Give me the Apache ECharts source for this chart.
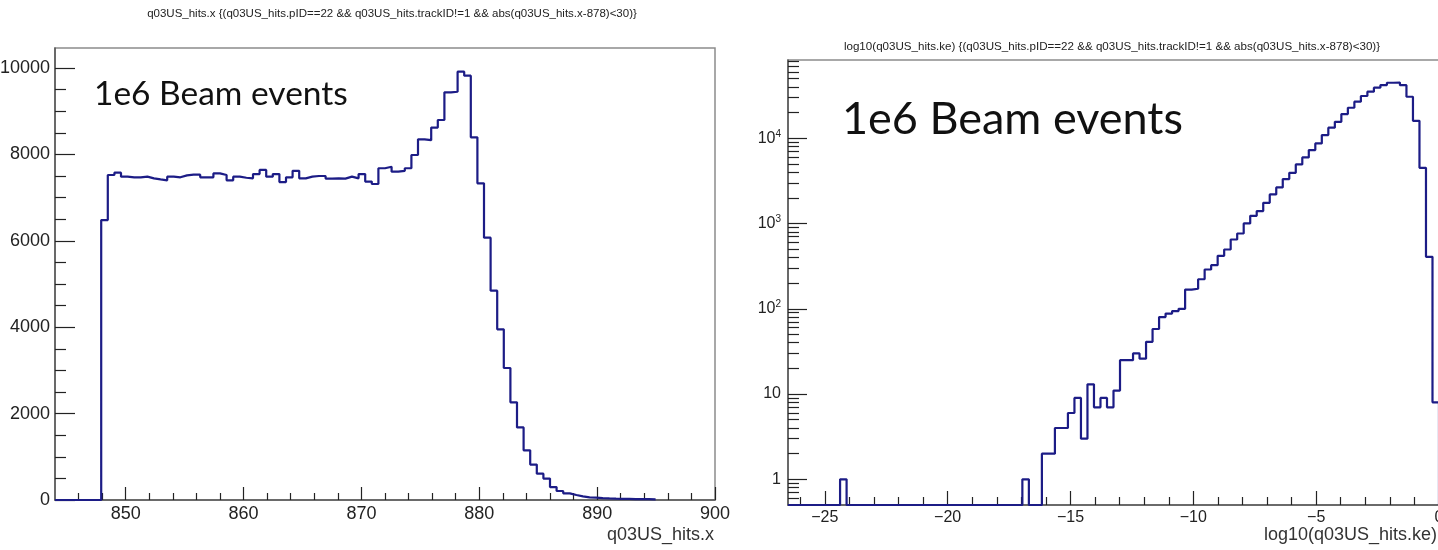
<!DOCTYPE html>
<html>
<head>
<meta charset="utf-8">
<script src="https://cdn.jsdelivr.net/npm/echarts@6/dist/echarts.min.js"></script>
<style>
html,body{margin:0;padding:0;background:#fff;}
#chart{width:1438px;height:550px;}
</style>
</head>
<body>
<div id="chart"></div>
<script>
// ---------- Left histogram: q03US_hits.x ----------
const leftTitle = 'q03US_hits.x {(q03US_hits.pID==22 && q03US_hits.trackID!=1 && abs(q03US_hits.x-878)<30)}';
const leftXTitle = 'q03US_hits.x';
const leftBinLo = 844;
const leftBinHi = 900;
const leftNBins = 100;
const leftYMax = 10463;
const leftCounts = [
  0, 0, 0, 0, 0, 0, 0, 6480, 7523, 7577,
  7485, 7470, 7470, 7485, 7446, 7420, 7400, 7485, 7470, 7515,
  7530, 7530, 7470, 7470, 7560, 7523, 7400, 7485, 7460, 7446,
  7545, 7640, 7485, 7545, 7360, 7470, 7620, 7446, 7485, 7500,
  7500, 7440, 7446, 7440, 7485, 7446, 7545, 7370, 7315, 7680,
  7715, 7600, 7620, 7680, 7986, 8348, 8330, 8620, 8796, 9437,
  9450, 9915, 9822, 8395, 7330, 6072, 4845, 3950, 3055, 2260,
  1680, 1150, 820, 610, 495, 300, 208, 154, 116, 85,
  60, 55, 45, 38, 32, 28, 25, 22, 20, 18,
  15
];
const leftXMajor = [850, 860, 870, 880, 890, 900];
const leftXMinor = [846, 848, 852, 854, 856, 858, 862, 864, 866, 868, 872, 874, 876, 878, 882, 884, 886, 888, 892, 894, 896, 898];
const leftYMajor = [0, 2000, 4000, 6000, 8000, 10000];
const leftYMinor = [500, 1000, 1500, 2500, 3000, 3500, 4500, 5000, 5500, 6500, 7000, 7500, 8500, 9000, 9500];

// ---------- Right histogram: log10(q03US_hits.ke) ----------
const rightTitle = 'log10(q03US_hits.ke) {(q03US_hits.pID==22 && q03US_hits.trackID!=1 && abs(q03US_hits.x-878)<30)}';
const rightXTitle = 'log10(q03US_hits.ke)';
const rightBinLo = -26.5;
const rightBinHi = 0;
const rightNBins = 100;
const rightYMin = 0.5;
const rightYMax = 82800;
const rightCounts = [
  0, 0, 0, 0, 0, 0, 0, 0, 1, 0,
  0, 0, 0, 0, 0, 0, 0, 0, 0, 0,
  0, 0, 0, 0, 0, 0, 0, 0, 0, 0,
  0, 0, 0, 0, 0, 0, 1, 0, 0, 2,
  2, 4, 4, 6, 9, 3, 13, 7, 9, 7,
  11, 25, 25, 30, 26, 41, 58, 80, 88, 94,
  100, 168, 172, 222, 289, 325, 418, 496, 650, 764,
  1002, 1233, 1399, 1750, 2193, 2650, 3320, 3937, 4935, 5960,
  7270, 8710, 10900, 13300, 15600, 19200, 22800, 26900, 31300, 35200,
  39200, 42100, 44800, 45100, 42000, 30700, 16000, 4500, 407, 8
];
const rightXMajor = [-25, -20, -15, -10, -5, 0];
const rightXMinor = [-26, -24, -23, -22, -21, -19, -18, -17, -16, -14, -13, -12, -11, -9, -8, -7, -6, -4, -3, -2, -1];
const rightYMajor = [1, 10, 100, 1000, 10000];
const rightYMinor = [0.6, 0.7, 0.8, 0.9, 2, 3, 4, 5, 6, 7, 8, 9, 20, 30, 40, 50, 60, 70, 80, 90,
  200, 300, 400, 500, 600, 700, 800, 900, 2000, 3000, 4000, 5000, 6000, 7000, 8000, 9000,
  20000, 30000, 40000, 50000, 60000, 70000, 80000];

const annotation = '1e6 Beam events';

// ---------- helpers ----------
function stepPoints(lo, hi, nBins, counts, floor) {
  const w = (hi - lo) / nBins;
  const pts = counts.map((c, k) => [lo + k * w, Math.max(c, floor)]);
  pts.push([lo + counts.length * w, Math.max(counts[counts.length - 1], floor)]);
  return pts;
}
const lg = v => Math.log10(v);

const lineColor = '#1c1c86';
const axisColor = '#555';
const tickColor = '#222';
const labelFont = 'Liberation Sans, Arial, Helvetica, sans-serif';
const annFont = 'Lato, "Open Sans", sans-serif';

const leftPts = stepPoints(leftBinLo, leftBinHi, leftNBins, leftCounts, 0);
const rightPts = stepPoints(rightBinLo, rightBinHi, rightNBins, rightCounts, rightYMin);
rightPts.push([rightBinHi, rightYMin]);

const chart = echarts.init(document.getElementById('chart'), null, {renderer: 'canvas'});

function tickAxis(extra) {
  return Object.assign({
    axisLine: {show: false, onZero: false},
    axisLabel: {show: false},
    splitLine: {show: false}
  }, extra);
}

const option = {
  animation: false,
  backgroundColor: '#ffffff',
  grid: [
    {left: 55, top: 48, width: 660, height: 452, show: true, borderColor: '#8c8c8c', borderWidth: 1.5,
     backgroundColor: 'transparent', containLabel: false, outerBoundsMode: 'none'},
    {left: 788, top: 60, width: 651, height: 445, show: true, borderColor: '#8c8c8c', borderWidth: 1.5,
     backgroundColor: 'transparent', containLabel: false, outerBoundsMode: 'none'}
  ],
  xAxis: [
    {
      gridIndex: 0, type: 'value', min: leftBinLo, max: leftBinHi, position: 'bottom',
      axisLine: {show: true, onZero: false, lineStyle: {color: axisColor, width: 1.5}},
      axisTick: {show: true, inside: true, length: 13, customValues: leftXMajor, lineStyle: {color: tickColor, width: 1.2}},
      axisLabel: {show: true, customValues: leftXMajor, margin: 5, fontSize: 18, color: '#222', fontFamily: labelFont,
                  formatter: v => String(v)},
      splitLine: {show: false}
    },
    tickAxis({
      gridIndex: 0, type: 'value', min: leftBinLo, max: leftBinHi, position: 'bottom',
      axisTick: {show: true, inside: true, length: 7, customValues: leftXMinor, lineStyle: {color: tickColor, width: 1.2}}
    }),
    {
      gridIndex: 1, type: 'value', min: rightBinLo, max: rightBinHi, position: 'bottom',
      axisLine: {show: true, onZero: false, lineStyle: {color: axisColor, width: 1.5}},
      axisTick: {show: true, inside: true, length: 14, customValues: rightXMajor, lineStyle: {color: tickColor, width: 1.2}},
      axisLabel: {show: true, customValues: rightXMajor, margin: 5, fontSize: 16, color: '#222', fontFamily: labelFont,
                  formatter: v => (v < 0 ? '\u2212' + Math.abs(v) : String(v))},
      splitLine: {show: false}
    },
    tickAxis({
      gridIndex: 1, type: 'value', min: rightBinLo, max: rightBinHi, position: 'bottom',
      axisTick: {show: true, inside: true, length: 8, customValues: rightXMinor, lineStyle: {color: tickColor, width: 1.2}}
    })
  ],
  yAxis: [
    {
      gridIndex: 0, type: 'value', min: 0, max: leftYMax, position: 'left',
      axisLine: {show: true, onZero: false, lineStyle: {color: axisColor, width: 1.5}},
      axisTick: {show: true, inside: true, length: 20, customValues: leftYMajor, lineStyle: {color: tickColor, width: 1.2}},
      axisLabel: {show: true, customValues: leftYMajor, margin: 5, fontSize: 18, color: '#222', fontFamily: labelFont,
                  formatter: v => String(v)},
      splitLine: {show: false}
    },
    tickAxis({
      gridIndex: 0, type: 'value', min: 0, max: leftYMax, position: 'left',
      axisTick: {show: true, inside: true, length: 11, customValues: leftYMinor, lineStyle: {color: tickColor, width: 1.2}}
    }),
    {
      gridIndex: 1, type: 'log', logBase: 10, min: rightYMin, max: rightYMax, position: 'left',
      axisLine: {show: true, onZero: false, lineStyle: {color: axisColor, width: 1.5}},
      axisTick: {show: false},
      axisLabel: {show: false},
      splitLine: {show: false}
    },
    tickAxis({
      gridIndex: 1, type: 'value', min: lg(rightYMin), max: lg(rightYMax), position: 'left',
      axisTick: {show: true, inside: true, length: 19, customValues: rightYMajor.map(lg), lineStyle: {color: tickColor, width: 1.2}},
      axisLabel: {
        show: true, customValues: rightYMajor.map(lg), margin: 7, fontSize: 16, color: '#222', fontFamily: labelFont,
        formatter: v => {
          const e = Math.round(v);
          if (e === 0) return '{b|1}';
          if (e === 1) return '{b|10}';
          return '{b|10}{s|' + e + '}';
        },
        rich: {
          b: {fontSize: 16, color: '#222', fontFamily: labelFont},
          s: {fontSize: 10, color: '#222', fontFamily: labelFont, padding: [0, 0, 9, 0]}
        }
      }
    }),
    tickAxis({
      gridIndex: 1, type: 'value', min: lg(rightYMin), max: lg(rightYMax), position: 'left',
      axisTick: {show: true, inside: true, length: 11, customValues: rightYMinor.map(lg), lineStyle: {color: tickColor, width: 1.2}}
    })
  ],
  series: [
    {
      type: 'line', xAxisIndex: 0, yAxisIndex: 0, data: leftPts, step: 'end',
      showSymbol: false, symbol: 'none', clip: true,
      lineStyle: {color: lineColor, width: 2.2}, z: 5
    },
    {
      type: 'line', xAxisIndex: 2, yAxisIndex: 2, data: rightPts, step: 'end',
      showSymbol: false, symbol: 'none', clip: false,
      lineStyle: {color: lineColor, width: 2.2}, z: 5
    }
  ],
  graphic: [
    {type: 'text', x: 392, y: 14, silent: true,
     style: {text: leftTitle, fontSize: 11.5, fontFamily: labelFont, fill: '#222', align: 'center', verticalAlign: 'middle'}},
    {type: 'text', x: 1112, y: 47, silent: true,
     style: {text: rightTitle, fontSize: 11.6, fontFamily: labelFont, fill: '#222', align: 'center', verticalAlign: 'middle'}},
    {type: 'text', x: 714, y: 535, silent: true,
     style: {text: leftXTitle, fontSize: 18, fontFamily: labelFont, fill: '#333', align: 'right', verticalAlign: 'middle'}},
    {type: 'text', x: 1437, y: 535, silent: true,
     style: {text: rightXTitle, fontSize: 18, fontFamily: labelFont, fill: '#333', align: 'right', verticalAlign: 'middle'}},
    {type: 'text', x: 94, y: 94, silent: true,
     style: {text: annotation, fontSize: 33.5, fontFamily: annFont, fill: '#111', align: 'left', verticalAlign: 'middle'}},
    {type: 'text', x: 842, y: 119, silent: true,
     style: {text: annotation, fontSize: 45, fontFamily: annFont, fill: '#111', align: 'left', verticalAlign: 'middle'}}
  ]
};
chart.setOption(option);
</script>
</body>
</html>
